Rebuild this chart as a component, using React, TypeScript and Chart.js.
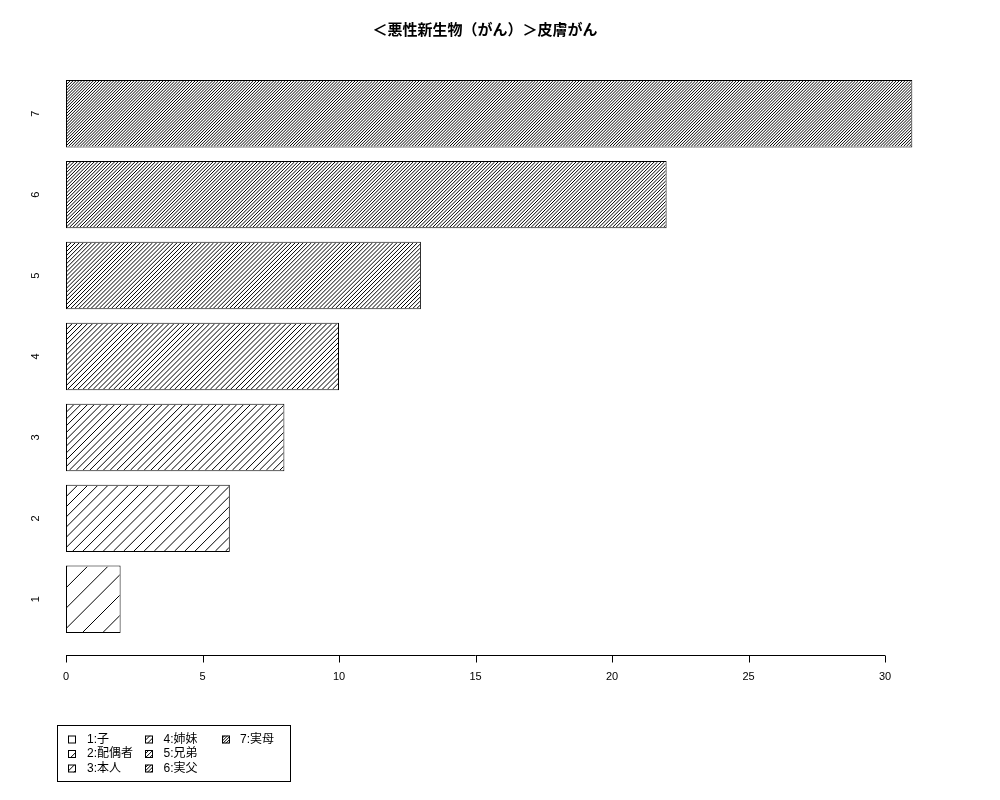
import React, { useEffect, useRef } from "react";
import { Chart, registerables } from "chart.js";

Chart.register(...registerables);

const chartTitle = "＜悪性新生物（がん）＞皮膚がん";
const categories = ["1", "2", "3", "4", "5", "6", "7"];
const values = [2, 6, 8, 10, 13, 22, 31];
const legendLabels = ["1:子", "2:配偶者", "3:本人", "4:姉妹", "5:兄弟", "6:実父", "7:実母"];
const xTicks = [0, 5, 10, 15, 20, 25, 30];
// hatch density (lines per inch), like R's density= argument
const densities = [5, 10, 15, 20, 25, 30, 35];

const FONT = '"Liberation Sans", "Noto Sans CJK JP", sans-serif';

// R barplot geometry: bar width 1, space 0.2, axis limits padded by 4%
const barCenters = categories.map((_, i) => 0.7 + i * 1.2);
const yLo = 0.2;
const yHi = categories.length * 1.2;
const yPad = 0.04 * (yHi - yLo);
const xLo = -0.01 * Math.max(...values);
const xHi = Math.max(...values);
const xPad = 0.04 * (xHi - xLo);

// draw 45° hatch lines inside a rectangle
function hatch(ctx: CanvasRenderingContext2D, l: number, t: number, w: number, h: number, density: number) {
  const step = (72 / density) * Math.SQRT2;
  ctx.save();
  ctx.beginPath();
  ctx.rect(l, t, w, h);
  ctx.clip();
  ctx.beginPath();
  for (let c = -h; c < w + step; c += step) {
    ctx.moveTo(l + c, t + h);
    ctx.lineTo(l + c + h, t);
  }
  ctx.strokeStyle = "#000";
  ctx.lineWidth = 1;
  ctx.stroke();
  ctx.restore();
}

const rStyle = {
  id: "rStyle",
  afterDatasetsDraw(chart: any) {
    const ctx = chart.ctx;
    const meta = chart.getDatasetMeta(0);
    meta.data.forEach((bar: any, i: number) => {
      const { x, y, base, height } = bar.getProps(["x", "y", "base", "height"], true);
      const l = Math.min(x, base);
      const w = Math.abs(x - base);
      const t = y - height / 2;
      hatch(ctx, l + 1, t + 1, w - 2, height - 2, densities[i]);
    });
  },
  afterDraw(chart: any) {
    const ctx = chart.ctx;
    const xs = chart.scales.x;
    const ys = chart.scales.y;
    const axisY = Math.round(chart.chartArea.bottom) + 0.5;

    ctx.save();
    ctx.strokeStyle = "#000";
    ctx.lineWidth = 1;
    // x axis
    ctx.beginPath();
    ctx.moveTo(xs.getPixelForValue(xTicks[0]), axisY);
    ctx.lineTo(xs.getPixelForValue(xTicks[xTicks.length - 1]), axisY);
    xTicks.forEach((v) => {
      const px = Math.round(xs.getPixelForValue(v)) + 0.5;
      ctx.moveTo(px, axisY);
      ctx.lineTo(px, axisY + 7);
    });
    ctx.stroke();

    ctx.fillStyle = "#000";
    ctx.font = `11px ${FONT}`;
    ctx.textAlign = "center";
    ctx.textBaseline = "middle";
    xTicks.forEach((v) => {
      ctx.fillText(String(v), xs.getPixelForValue(v), axisY + 21);
    });

    // category names, rotated like R
    categories.forEach((c, i) => {
      ctx.save();
      ctx.translate(36, ys.getPixelForValue(barCenters[i]));
      ctx.rotate(-Math.PI / 2);
      ctx.fillText(c, 0, 0);
      ctx.restore();
    });

    // legend
    ctx.strokeRect(57.5, 725.5, 233, 56);
    ctx.font = `12px ${FONT}`;
    ctx.textAlign = "left";
    legendLabels.forEach((lab, i) => {
      const col = Math.floor(i / 3);
      const row = i % 3;
      const bx = 68 + col * 77;
      const by = 739.5 + row * 14.5;
      ctx.fillStyle = "#fff";
      ctx.fillRect(bx, by - 4, 8, 8);
      hatch(ctx, bx, by - 4, 8, 8, densities[i]);
      ctx.strokeStyle = "#000";
      ctx.strokeRect(bx + 0.5, by - 3.5, 7, 7);
      ctx.fillStyle = "#000";
      ctx.fillText(lab, 87 + col * 76.5, by);
    });
    ctx.restore();
  },
};

export default function App() {
  const canvasRef = useRef<HTMLCanvasElement | null>(null);

  useEffect(() => {
    const canvas = canvasRef.current;
    if (!canvas) return;

    const chart = new Chart(canvas, {
      type: "bar",
      data: {
        labels: categories,
        datasets: [
          {
            data: values.map((v, i) => ({ x: v, y: barCenters[i] })),
            backgroundColor: "#fff",
            borderColor: "#000",
            borderWidth: 1,
            borderSkipped: false,
            barPercentage: 1 / 1.2,
            categoryPercentage: 1,
          },
        ],
      },
      options: {
        indexAxis: "y",
        animation: false,
        responsive: true,
        maintainAspectRatio: false,
        devicePixelRatio: 1,
        layout: {
          padding: { left: 23.35, right: 53.5, top: 0, bottom: 144.9 },
        },
        scales: {
          x: {
            type: "linear",
            min: xLo - xPad,
            max: xHi + xPad,
            display: false,
            afterBuildTicks: (s: any) => {
              s.ticks = xTicks.map((v) => ({ value: v }));
            },
          },
          y: {
            type: "linear",
            min: yLo - yPad,
            max: yHi + yPad,
            offset: false,
            display: false,
            afterBuildTicks: (s: any) => {
              s.ticks = barCenters.map((v) => ({ value: v }));
            },
          },
        },
        plugins: {
          legend: { display: false },
          tooltip: { enabled: false },
          title: {
            display: true,
            text: chartTitle,
            color: "#000",
            font: { family: '"Noto Sans CJK JP", sans-serif', size: 15, weight: "bold", lineHeight: 1.2 },
            padding: { top: 20, bottom: 19.9 },
          },
        },
      },
      plugins: [rStyle],
    } as any);

    return () => chart.destroy();
  }, []);

  return (
    <div style={{ position: "absolute", left: 0, top: 0, width: 1000, height: 800, background: "#fff" }}>
      <canvas ref={canvasRef} />
    </div>
  );
}
